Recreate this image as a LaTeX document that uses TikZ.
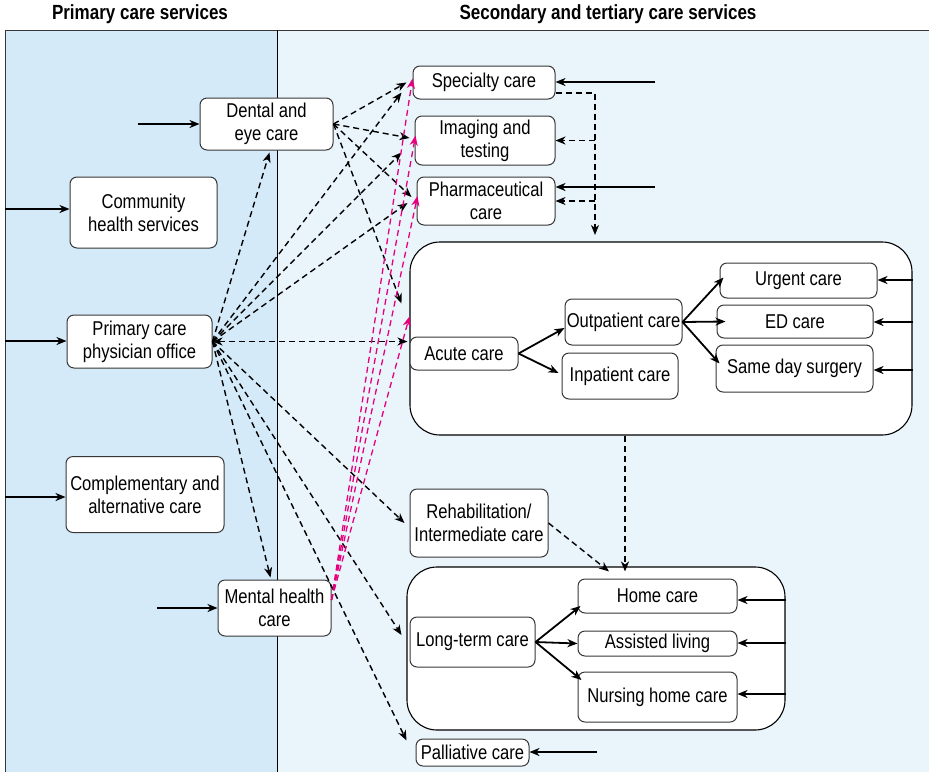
\documentclass[tikz,border=0pt]{standalone}
\usepackage{fontspec}
\setmainfont[FakeStretch=0.83]{Liberation Sans}
\usetikzlibrary{arrows.meta}

\definecolor{primbg}{RGB}{213,234,248}
\definecolor{secbg}{RGB}{234,244,251}
\definecolor{linkpink}{RGB}{230,0,126}
\definecolor{edgegray}{RGB}{55,55,55}

\tikzset{
  txt/.style={font=\fontsize{20}{23}\selectfont},
  box/.style={txt, draw=edgegray, line width=1pt, fill=white, rounded corners=7pt,
              align=center, inner sep=0pt},
  group/.style={draw=black, line width=1.1pt, fill=white, rounded corners=30pt, inner sep=0pt},
  header/.style={font=\bfseries\fontsize{20.5}{23}\selectfont},
  tipend/.style={-{Stealth[length=10pt,width=8pt,inset=3pt]}},
  flow/.style={tipend, line width=1.8pt},
  link/.style={tipend, line width=1.4pt, dash pattern=on 6pt off 4pt},
  twolink/.style={{Stealth[length=10pt,width=8pt,inset=3pt]}-{Stealth[length=10pt,width=8pt,inset=3pt]},
                  line width=1.4pt, dash pattern=on 6pt off 4pt},
  pinklink/.style={link, draw=linkpink, line width=1.3pt},
}

\begin{document}
\begin{tikzpicture}[x=1pt,y=-1pt]
\useasboundingbox (0,0) rectangle (929,772);

% two service panels
\fill[primbg] (5,30) rectangle (277,772);
\fill[secbg] (277,30) rectangle (929,772);
\draw[edgegray, line width=1pt] (5,772) -- (5,30) -- (929,30);
\draw[black, line width=1pt] (277,30) -- (277,772);

\node[header] (hprim) at (140,14) {Primary care services};
\node[header] (hsec) at (608,14) {Secondary and tertiary care services};

% grouping boxes
\node[group, minimum width=502pt, minimum height=193pt] (acutebox) at (661,338.5) {};
\node[group, minimum width=378pt, minimum height=163pt] (ltcbox) at (596,648.5) {};

% primary care services
\node[box, minimum width=133pt, minimum height=52pt] (dental) at (266.5,124) {Dental and\\eye care};
\node[box, minimum width=147pt, minimum height=71pt] (comm) at (143.5,212.5) {Community\\health services};
\node[box, minimum width=145pt, minimum height=53pt] (office) at (139.5,341.5) {Primary care\\physician office};
\node[box, minimum width=158pt, minimum height=76pt] (comp) at (145,494.5) {Complementary and\\alternative care};
\node[box, minimum width=113pt, minimum height=56pt] (mental) at (274.5,608) {Mental health\\care};

% secondary and tertiary care services
\node[box, minimum width=142pt, minimum height=33pt] (spec) at (484,82.5) {Specialty care};
\node[box, minimum width=140pt, minimum height=49pt] (img) at (485,140.5) {Imaging and\\testing};
\node[box, minimum width=138pt, minimum height=48pt] (pharm) at (486,201) {Pharmaceutical\\care};

\node[box, minimum width=108pt, minimum height=33pt] (acute) at (464,353.5) {Acute care};
\node[box, minimum width=117pt, minimum height=46pt] (outp) at (623.5,322) {Outpatient care};
\node[box, minimum width=116pt, minimum height=46pt] (inp) at (620,376) {Inpatient care};
\node[box, minimum width=157pt, minimum height=35pt] (urgent) at (798.5,280.5) {Urgent care};
\node[box, minimum width=156pt, minimum height=33pt] (ed) at (795,321.5) {ED care};
\node[box, minimum width=157pt, minimum height=47pt] (same) at (794.5,368.5) {Same day surgery};

\node[box, minimum width=138pt, minimum height=68pt] (rehab) at (479,523) {Rehabilitation/\\Intermediate care};

\node[box, minimum width=125pt, minimum height=50pt] (ltc) at (472.5,642) {Long-term care};
\node[box, minimum width=159pt, minimum height=34pt] (home) at (657.5,596) {Home care};
\node[box, minimum width=159pt, minimum height=25pt] (assist) at (657.5,643.5) {Assisted living};
\node[box, minimum width=159pt, minimum height=50pt] (nurse) at (657.5,697) {Nursing home care};

\node[box, minimum width=113pt, minimum height=27pt] (pall) at (472.5,752.5) {Palliative care};

% free ends of entry arrows
\coordinate (inDental) at (138,124);
\coordinate (inComm) at (5,209);
\coordinate (inOffice) at (5,341);
\coordinate (inComp) at (5,497);
\coordinate (inMental) at (157,608);
\coordinate (inSpec) at (655,82);
\coordinate (inPharm) at (655,187);
\coordinate (inPall) at (597,752);
\coordinate (distTop) at (595,93);
\coordinate (distEnd) at (595,235);

% entry arrows
\draw[flow] (inDental) -- (dental.west |- inDental);
\draw[flow] (inComm) -- (comm.west |- inComm);
\draw[flow] (inOffice) -- (office.west |- inOffice);
\draw[flow] (inComp) -- (comp.west |- inComp);
\draw[flow] (inMental) -- (mental.west |- inMental);
\draw[flow] (inSpec) -- (spec.east |- inSpec);
\draw[flow] (inPharm) -- (pharm.east |- inPharm);
\draw[flow] (inPall) -- (pall.east |- inPall);

% referrals out of specialty care
\draw[link] (spec.east |- distTop) -- (distTop) -- (distEnd);
\draw[link] (distTop |- img.east) -- (img.east);
\draw[link] (distTop |- pharm.east) -- (pharm.east);

% dental and eye care links
\draw[link] (dental.east) -- ([xshift=-6pt]spec.west);
\draw[link] (dental.east) -- ([xshift=-5pt,yshift=2.5pt]img.west);
\draw[link] (dental.east) -- ([xshift=-5pt,yshift=4pt]pharm.west);
\draw[link] (dental.east) -- ([xshift=-8pt,yshift=35pt]acutebox.west);

% primary care physician office links
\draw[link] (office.east) -- ([xshift=3pt,yshift=-2pt]dental.south);
\draw[link] (office.east) -- ([xshift=-11pt,yshift=-10pt]spec.west);
\draw[link] (office.east) -- ([xshift=-13pt,yshift=-12pt]img.west);
\draw[link] (office.east) -- ([xshift=-9pt,yshift=-2pt]pharm.west);
\draw[twolink] (office.east) -- ([xshift=-2pt]acute.west |- office.east);
\draw[link] (office.east) -- ([xshift=-5pt]rehab.west);
\draw[link] (office.east) -- ([xshift=-4pt,yshift=2pt]mental.north);
\draw[link] (office.east) -- ([xshift=-8pt,yshift=7pt]ltc.west);
\draw[link] (office.east) -- ([xshift=-9pt,yshift=12pt]pall.west);

% mental health care links
\draw[pinklink] ([yshift=8pt]mental.east) -- ([yshift=4pt]spec.west);
\draw[pinklink] ([yshift=8pt]mental.east) -- ([xshift=1pt,yshift=5pt]img.west);
\draw[pinklink] ([yshift=8pt]mental.east) -- ([xshift=1pt,yshift=5pt]pharm.west);
\draw[pinklink] ([yshift=8pt]mental.east) -- ([yshift=22pt]acutebox.west);

% acute care
\draw[flow] (acute.east) -- ([yshift=-6pt]outp.west);
\draw[flow] (acute.east) -- ([xshift=-3pt,yshift=3pt]inp.west);
\draw[flow] (outp.east) -- ([xshift=4pt,yshift=3pt]urgent.west);
\draw[flow] (outp.east) -- ([xshift=9pt]ed.west);
\draw[flow] (outp.east) -- ([xshift=4pt,yshift=5pt]same.west);
\draw[flow] ([yshift=0.5pt]urgent.east -| acutebox.east) -- ([yshift=0.5pt]urgent.east);
\draw[flow] ([yshift=-0.5pt]ed.east -| acutebox.east) -- ([yshift=-0.5pt]ed.east);
\draw[flow] ([yshift=-1.5pt]same.east -| acutebox.east) -- ([yshift=-1.5pt]same.east);

% towards long-term care
\draw[link] ([xshift=-36pt]acutebox.south) -- ([xshift=-36pt,yshift=-5pt]acutebox.south |- ltcbox.north);
\draw[link] (rehab.east) -- ([xshift=13pt,yshift=-5pt]ltcbox.north);

% long-term care
\draw[flow] (ltc.east) -- ([xshift=3pt,yshift=-10pt]home.west);
\draw[flow] (ltc.east) -- (assist.west);
\draw[flow] (ltc.east) -- ([xshift=4pt,yshift=17pt]nurse.west);
\draw[flow] ([yshift=-4pt]home.east -| ltcbox.east) -- ([yshift=-4pt]home.east);
\draw[flow] ([yshift=0.5pt]assist.east -| ltcbox.east) -- ([yshift=0.5pt]assist.east);
\draw[flow] ([yshift=3pt]nurse.east -| ltcbox.east) -- ([yshift=3pt]nurse.east);
\end{tikzpicture}
\end{document}
